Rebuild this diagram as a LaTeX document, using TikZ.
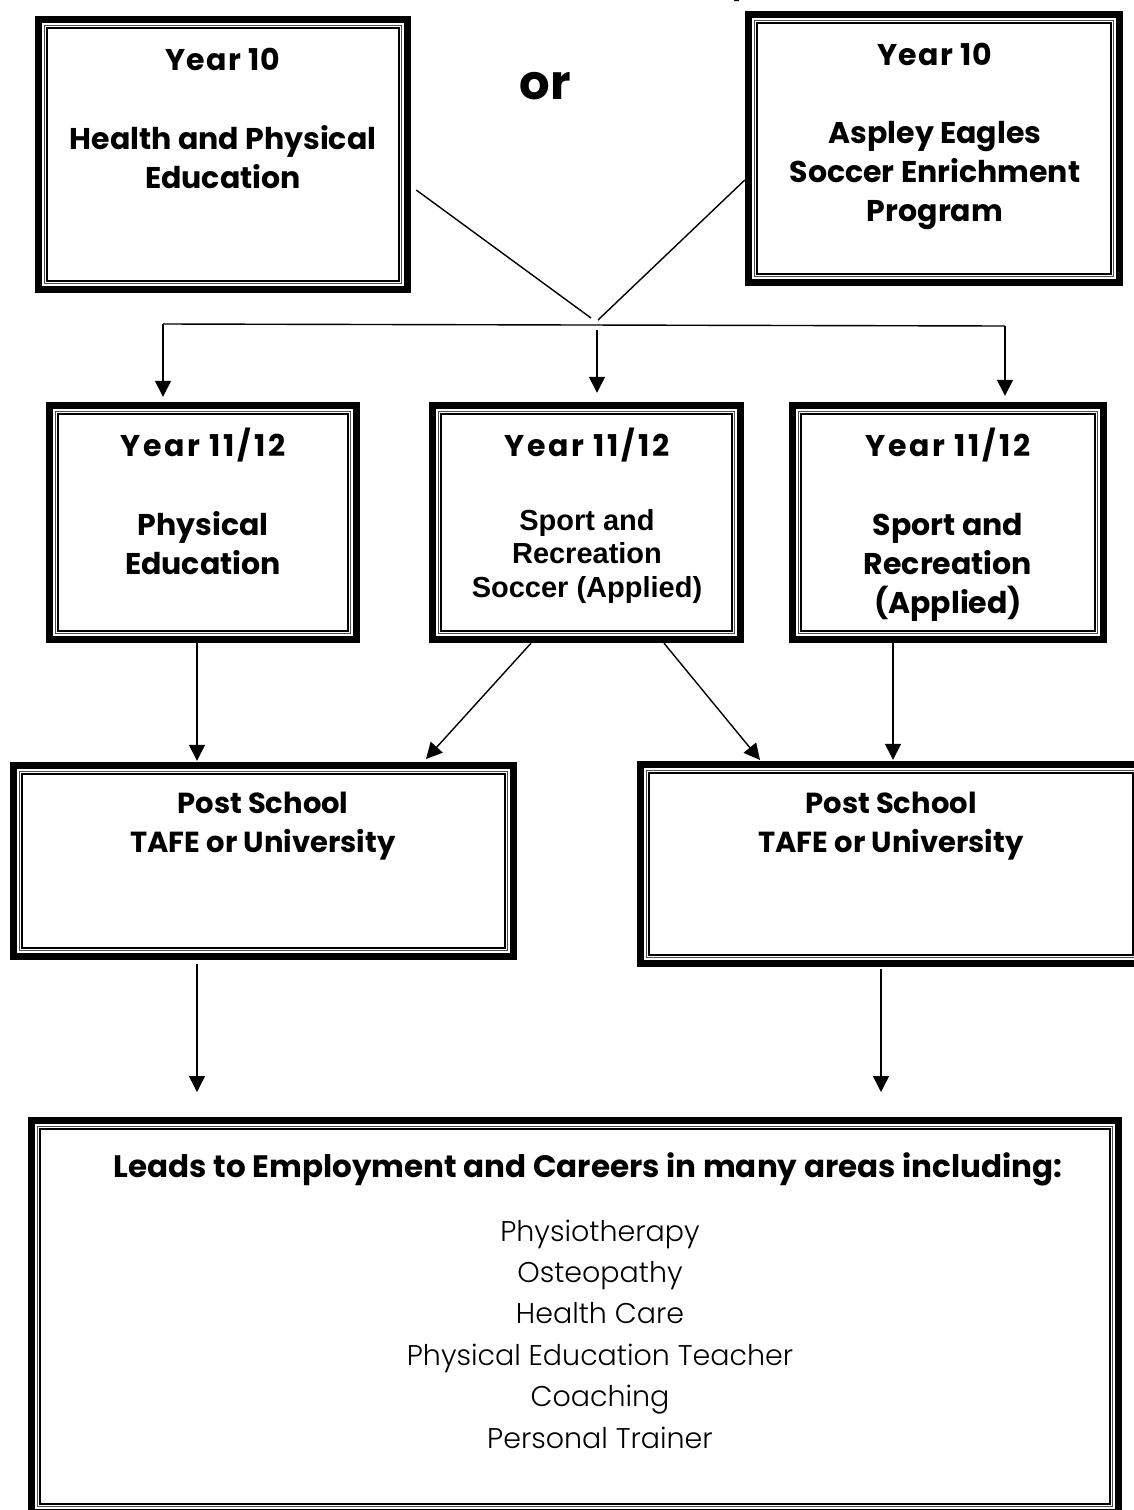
\documentclass[tikz,border=0pt]{standalone}
\usepackage{fontspec}
\setmainfont{Poppins}[Numbers=Monospaced]
\IfFontExistsTF{Poppins Light}
  {\newfontfamily\listfont{Poppins Light}}
  {\newfontfamily\listfont{Poppins}}
\newfontfamily\arialfont{Liberation Sans}
\usetikzlibrary{arrows.meta}

% thick-thin-thin frame round a named box node
\newcommand\tripleframe[1]{%
  \draw[line width=7pt] ([shift={(3.5pt,3.5pt)}]#1.south west) rectangle ([shift={(-3.5pt,-3.5pt)}]#1.north east);
  \draw[line width=0.9pt, black!70] ([shift={(9.5pt,9.5pt)}]#1.south west) rectangle ([shift={(-9.5pt,-9.5pt)}]#1.north east);
  \draw[line width=1.6pt] ([shift={(12pt,12pt)}]#1.south west) rectangle ([shift={(-12pt,-12pt)}]#1.north east);
}
% year labels are set a little wider
\newcommand\yearlabel[2][9]{{\addfontfeatures{LetterSpace=#1}#2}}

\tikzset{
  boxarea/.style={rectangle, inner sep=0pt, draw=none},
  head/.style={anchor=base, align=center, inner sep=0pt,
    font=\fontsize{30}{39}\selectfont\bfseries},
  posthead/.style={head, font=\fontsize{29}{39}\selectfont\bfseries},
  arialhead/.style={anchor=base, align=center, inner sep=0pt,
    font=\fontsize{29}{33.5}\selectfont\arialfont\bfseries},
  listtext/.style={anchor=base, align=center, inner sep=0pt,
    font=\fontsize{28.5}{41.4}\selectfont\listfont},
  conn/.style={line width=1.4pt},
  arr/.style={line width=1.4pt, -{Triangle[length=16pt,width=16pt]}}
}

\begin{document}
\begin{tikzpicture}[x=1pt,y=-1pt]
\useasboundingbox (0,0) rectangle (1134,1510);
\clip (0,0) rectangle (1134,1510);

% title line above the chart, only its descender lies inside the page
\node[anchor=base, inner sep=0pt, font=\fontsize{27}{30}\selectfont\bfseries] (title) at (740,-6) {y};

% box areas
\node[boxarea, minimum width=376pt, minimum height=277pt] (hpe) at (223,154.5) {};
\node[boxarea, minimum width=378pt, minimum height=275pt] (aspley) at (934,148.5) {};
\node[boxarea, minimum width=314pt, minimum height=241pt] (pe) at (203,522.5) {};
\node[boxarea, minimum width=315pt, minimum height=241pt] (soccer) at (586.5,522.5) {};
\node[boxarea, minimum width=318pt, minimum height=241pt] (sr) at (948,522.5) {};
\node[boxarea, minimum width=507pt, minimum height=198pt] (post1) at (263.5,861) {};
\node[boxarea, minimum width=508pt, minimum height=206pt] (post2) at (891,864) {};
\node[boxarea, minimum width=1094pt, minimum height=399pt] (careers) at (575,1316.5) {};

\foreach \b in {hpe,aspley,pe,soccer,sr,post1,post2,careers} {\tripleframe{\b}}

% "or" between the two Year 10 options
\node[anchor=base, inner sep=0pt, font=\fontsize{48}{50}\selectfont\bfseries] (or) at (545,99) {or};

% box texts (each node is placed by the baseline of its last line)
\node[head] (hpe-t) at (223,188) {\yearlabel[4]{Year 10}\\[40pt]Health and Physical\\Education};
\node[head] (aspley-t) at (935,221) {\yearlabel[4]{Year 10}\\[39pt]Aspley Eagles\\Soccer Enrichment\\Program};
\node[head] (pe-t) at (203,574) {\yearlabel{Year 11/12}\\[40pt]Physical\\Education};
\node[head] (soccer-t1) at (587,456) {\yearlabel{Year 11/12}};
\node[arialhead] (soccer-t2) at (587,597) {Sport and\\Recreation\\Soccer (Applied)};
\node[head] (sr-t) at (948,613) {\yearlabel{Year 11/12}\\[40pt]Sport and\\Recreation\\(Applied)};
\node[posthead] (post1-t) at (263,852) {Post School\\TAFE or University};
\node[posthead] (post2-t) at (891,852) {Post School\\TAFE or University};
\node[head, font=\fontsize{31}{39}\selectfont\bfseries] (careers-h) at (588,1177) {Leads to Employment and Careers in many areas including:};
\node[listtext] (careers-l) at (600,1448) {Physiotherapy\\Osteopathy\\Health Care\\Physical Education Teacher\\Coaching\\Personal Trainer};

% Year 10 options join, then branch to the three senior subjects
\coordinate (jl) at (591,318);
\coordinate (jr) at (598,320);
\coordinate (bl) at (163,324);
\coordinate (br) at (1005,326);
\coordinate (bm) at (597,330);
\draw[conn] ([shift={(5pt,-35.5pt)}]hpe.east) -- (jl);
\draw[conn] ([shift={(0pt,-31.5pt)}]aspley.west) -- (jr);
\draw[conn] (bl) -- (br);
\draw[arr] (bl) -- ([yshift=5pt]bl |- pe.north);
\draw[arr] (bm) -- ([yshift=9pt]bm |- soccer.north);
\draw[arr] (br) -- ([yshift=6pt]br |- sr.north);

% senior subjects to post school study
\draw[arr] (197,643) -- ([yshift=1pt]post1.north -| 197,0);
\draw[arr] ([xshift=-55.5pt]soccer.south) -- (426,759);
\draw[arr] ([xshift=77.5pt]soccer.south) -- (760,760);
\draw[arr] (893,643) -- ([yshift=1pt]post2.north -| 893,0);

% post school study to careers
\draw[arr] ([yshift=-4pt]post1.south -| 197,0) -- (197,1092);
\draw[arr] ([yshift=-2pt]post2.south -| 881,0) -- (881,1092);
\end{tikzpicture}
\end{document}
